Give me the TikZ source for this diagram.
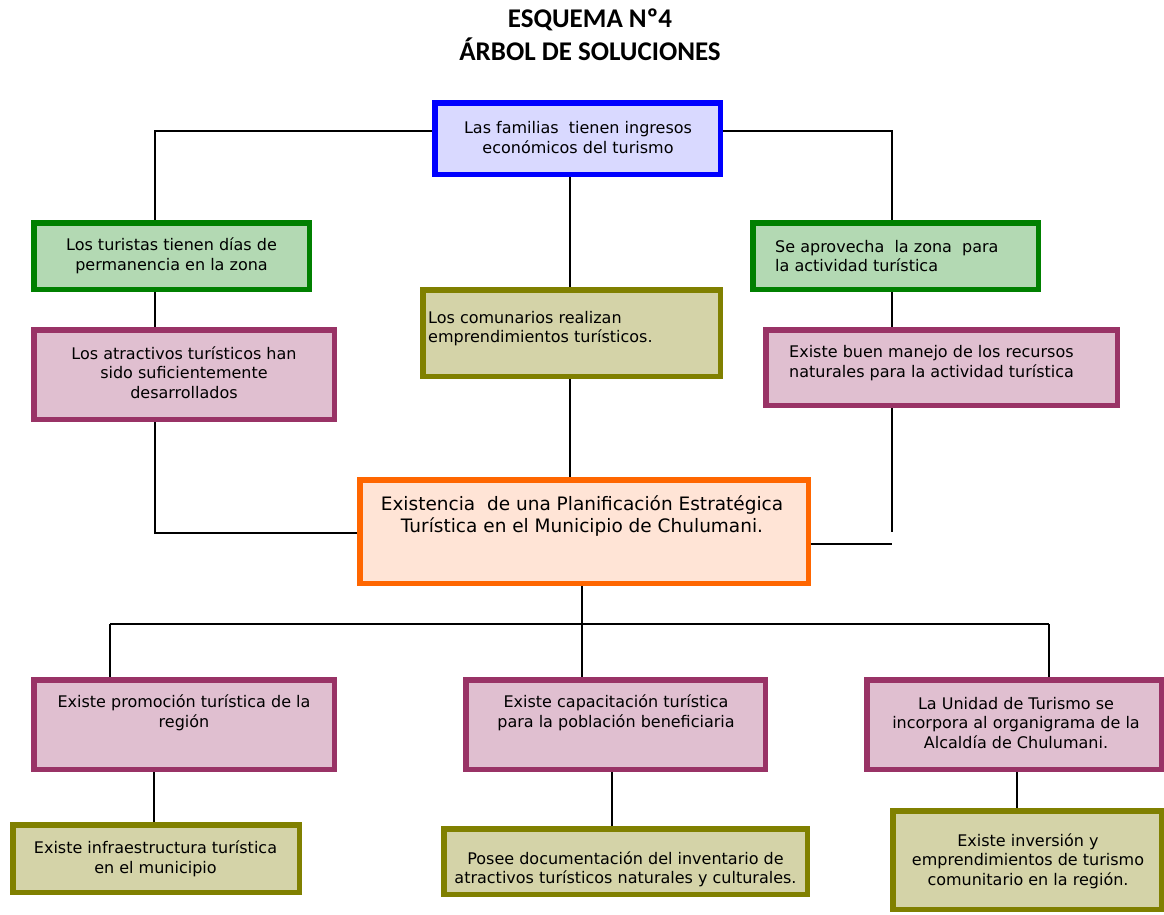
\documentclass[tikz,border=0pt]{standalone}
\usepackage{fontspec}
\setmainfont{DejaVu Sans}
\newfontfamily\titlefont{Carlito}
\definecolor{bluebd}{HTML}{0000FF}
\definecolor{bluefl}{HTML}{D9D9FF}
\definecolor{greenbd}{HTML}{008000}
\definecolor{greenfl}{HTML}{B3D9B3}
\definecolor{pinkbd}{HTML}{993366}
\definecolor{pinkfl}{HTML}{E0BFD0}
\definecolor{olivebd}{HTML}{808000}
\definecolor{olivefl}{HTML}{D4D3A8}
\definecolor{orangebd}{HTML}{FF6600}
\definecolor{orangefl}{HTML}{FFE4D6}
\begin{document}
\begin{tikzpicture}[x=1pt,y=-1pt,
  box/.style={draw, line width=5.5pt, inner sep=0pt, outer sep=2.75pt},
  bluebox/.style={box, draw=bluebd, fill=bluefl},
  greenbox/.style={box, draw=greenbd, fill=greenfl},
  pinkbox/.style={box, draw=pinkbd, fill=pinkfl},
  olivebox/.style={box, draw=olivebd, fill=olivefl},
  orangebox/.style={box, draw=orangebd, fill=orangefl},
  txt/.style={inner sep=0pt, align=center, font=\fontsize{16}{19.5}\selectfont},
  ltxt/.style={txt, align=left, anchor=west},
  bigtxt/.style={inner sep=0pt, align=center, font=\fontsize{18.5}{22.5}\selectfont},
  ttl/.style={inner sep=0pt, anchor=base, font=\titlefont\bfseries\fontsize{27}{32}\selectfont},
  link/.style={line width=1.3pt, black}
]
\useasboundingbox (0,0) rectangle (1164,914);

% title
\node[ttl] (t1) at (590,27) {ESQUEMA Nº4};
\node[ttl] (t2) at (590,60) {ÁRBOL DE SOLUCIONES};

% boxes
\node[bluebox, minimum width=285.5pt, minimum height=71.5pt] (blue) at (577.5,138.5) {};
\node[greenbox, minimum width=275.5pt, minimum height=66.5pt] (gl) at (171.5,256) {};
\node[pinkbox, minimum width=300.5pt, minimum height=89.5pt] (pl) at (184,374.5) {};
\node[olivebox, minimum width=297.5pt, minimum height=86.5pt] (oc) at (571.5,333) {};
\node[greenbox, minimum width=285.5pt, minimum height=66.5pt] (gr) at (895.5,256) {};
\node[pinkbox, minimum width=351.5pt, minimum height=75.5pt] (pr) at (941.5,367.5) {};
\node[orangebox, minimum width=448.5pt, minimum height=103.5pt] (or) at (584,531.5) {};
\node[pinkbox, minimum width=300.5pt, minimum height=89.5pt] (p1) at (184,724.5) {};
\node[pinkbox, minimum width=299.5pt, minimum height=89.5pt] (p2) at (615.5,724.5) {};
\node[pinkbox, minimum width=294.5pt, minimum height=89.5pt] (p3) at (1014,724.5) {};
\node[olivebox, minimum width=286.5pt, minimum height=67.5pt] (o1) at (156,858.5) {};
\node[olivebox, minimum width=363.5pt, minimum height=65.5pt] (o2) at (625.5,861.5) {};
\node[olivebox, minimum width=268.5pt, minimum height=98.5pt] (o3) at (1027,860) {};

% texts
\node[txt] (tblue) at (578,137.5) {Las familias\ \ tienen ingresos\\económicos del turismo};
\node[txt] (tgl) at (171.5,256) {Los turistas tienen días de\\permanencia en la zona};
\node[txt] (tpl) at (184,372.5) {Los atractivos turísticos han\\sido suficientemente\\desarrollados};
\node[ltxt] (toc) at (428,328.5) {Los comunarios realizan\\emprendimientos turísticos.};
\node[ltxt] (tgr) at (775,256) {Se aprovecha\ \ la zona\ \ para\\la actividad turística};
\node[ltxt] (tpr) at (789,363) {Existe buen manejo de los recursos\\naturales para la actividad turística};
\node[bigtxt] (tor) at (582,516) {Existencia\ \ de una Planificación Estratégica\\Turística en el Municipio de Chulumani.};
\node[txt] (tp1) at (184,713) {Existe promoción turística de la\\región};
\node[txt] (tp2) at (616,713) {Existe capacitación turística\\para la población beneficiaria};
\node[txt] (tp3) at (1016,723) {La Unidad de Turismo se\\incorpora al organigrama de la\\Alcaldía de Chulumani.};
\node[txt] (to1) at (155.5,858.5) {Existe infraestructura turística\\en el municipio};
\node[txt] (to2) at (625.5,869) {Posee documentación del inventario de\\atractivos turísticos naturales y culturales.};
\node[txt] (to3) at (1028,861) {Existe inversión y\\emprendimientos de turismo\\comunitario en la región.};

% joints
\coordinate (jl) at (155,131);
\coordinate (jr) at (892,131);
\coordinate (jlb) at (155,533);
\coordinate (jrb) at (892,532);
\coordinate (jre) at (892,544);
\coordinate (hb) at (582,624);
\coordinate (hl) at (110,624);
\coordinate (hr) at (1049,624);

% connectors (upper tree)
\draw[link] (blue.west |- jl) -- (jl) -- (jl |- gl.north);
\draw[link] (blue.east |- jr) -- (jr) -- (jr |- gr.north);
\draw[link] (570,0 |- blue.south) -- (570,0 |- oc.north);
\draw[link] (jl |- gl.south) -- (jl |- pl.north);
\draw[link] (jr |- gr.south) -- (jr |- pr.north);
\draw[link] (jl |- pl.south) -- (jlb) -- (or.west |- jlb);
\draw[link] (570,0 |- oc.south) -- (570,0 |- or.north);
\draw[link] (jr |- pr.south) -- (jrb);
\draw[link] (or.east |- jre) -- (jre);

% connectors (lower tree)
\draw[link] (hb |- or.south) -- (hb);
\draw[link] (hl) -- (hr);
\draw[link] (hl) -- (hl |- p1.north);
\draw[link] (hb) -- (hb |- p2.north);
\draw[link] (hr) -- (hr |- p3.north);
\draw[link] (154,0 |- p1.south) -- (154,0 |- o1.north);
\draw[link] (612,0 |- p2.south) -- (612,0 |- o2.north);
\draw[link] (1017,0 |- p3.south) -- (1017,0 |- o3.north);
\end{tikzpicture}
\end{document}
